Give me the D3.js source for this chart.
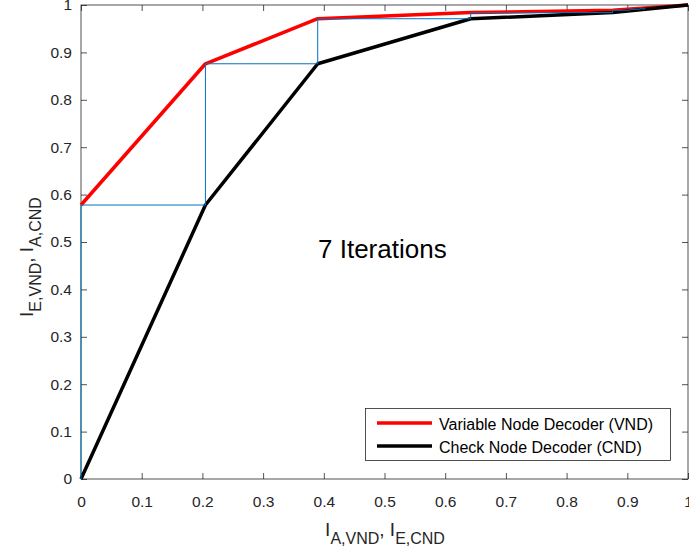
<!DOCTYPE html>
<html>
<head>
<meta charset="utf-8">
<script src="https://cdn.jsdelivr.net/npm/d3@7"></script>
<style>
  html, body { margin: 0; padding: 0; background: #fff; }
  svg { display: block; font-family: "Liberation Sans", Arial, Helvetica, sans-serif; }
</style>
</head>
<body>
<svg id="chart" width="689" height="556"></svg>
<script>
// EXIT chart: VND and CND transfer curves with decoding trajectory
const vndX = [0, 0.205, 0.39, 0.642, 0.876, 1];
const vndY = [0.578, 0.876, 0.971, 0.984, 0.989, 1];
const cndX = [0, 0.205, 0.39, 0.642, 0.876, 1];
const cndY = [0, 0.578, 0.876, 0.971, 0.984, 1];
const trajX = [0, 0, 0.205, 0.205, 0.39, 0.39, 0.642, 0.642, 0.876, 0.876, 0.905, 0.905, 0.92, 0.92, 0.93];
const trajY = [0, 0.578, 0.578, 0.876, 0.876, 0.971, 0.971, 0.984, 0.984, 0.989, 0.989, 0.991, 0.991, 0.992, 0.992];
const tickValues = [0, 0.1, 0.2, 0.3, 0.4, 0.5, 0.6, 0.7, 0.8, 0.9, 1];
const legendLabels = ["Variable Node Decoder (VND)", "Check Node Decoder (CND)"];
const annotation = "7 Iterations";

const svg = d3.select("#chart");
const L = 81, R = 688, T = 5, B = 479;
const x = d3.scaleLinear().domain([0, 1]).range([L, R]);
const y = d3.scaleLinear().domain([0, 1]).range([B, T]);
const fmt = d => (d === 0 || d === 1) ? String(d) : d3.format(".1f")(d);
const axisColor = "#262626";

function styleAxis(g) {
  g.select(".domain").remove();
  g.selectAll(".tick line").attr("stroke", axisColor).attr("stroke-width", 0.8);
  g.selectAll(".tick text").attr("fill", axisColor).attr("font-size", "15.5px")
    .attr("font-family", "Liberation Sans, Arial, sans-serif");
}

// axes with inward ticks on all four sides
svg.append("g").attr("transform", `translate(0,${B})`)
  .call(d3.axisBottom(x).tickValues(tickValues).tickFormat(fmt).tickSize(-6).tickSizeOuter(0).tickPadding(17))
  .call(styleAxis);
svg.append("g").attr("transform", `translate(0,${T})`)
  .call(d3.axisTop(x).tickValues(tickValues).tickFormat("").tickSize(-6).tickSizeOuter(0))
  .call(styleAxis);
svg.append("g").attr("transform", `translate(${L},0)`)
  .call(d3.axisLeft(y).tickValues(tickValues).tickFormat(fmt).tickSize(-6).tickSizeOuter(0).tickPadding(9))
  .call(styleAxis);
svg.append("g").attr("transform", `translate(${R},0)`)
  .call(d3.axisRight(y).tickValues(tickValues).tickFormat("").tickSize(-6).tickSizeOuter(0))
  .call(styleAxis);

// axes box
svg.append("rect")
  .attr("x", L).attr("y", T).attr("width", R - L).attr("height", B - T)
  .attr("fill", "none").attr("stroke", axisColor).attr("stroke-width", 0.8);

const line = d3.line().x(d => x(d[0])).y(d => y(d[1]));

svg.append("path").datum(d3.zip(vndX, vndY))
  .attr("d", line).attr("fill", "none").attr("stroke", "#ff0000")
  .attr("stroke-width", 3.5).attr("stroke-linejoin", "round");
svg.append("path").datum(d3.zip(cndX, cndY))
  .attr("d", line).attr("fill", "none").attr("stroke", "#000000")
  .attr("stroke-width", 3.5).attr("stroke-linejoin", "round");
svg.append("path").datum(d3.zip(trajX, trajY))
  .attr("d", line).attr("fill", "none").attr("stroke", "#0072BD")
  .attr("stroke-width", 1);

// annotation
svg.append("text").attr("x", 318).attr("y", 258)
  .attr("font-size", "26px").attr("fill", "#000").text(annotation);

// x axis label with subscripts
const xl = svg.append("text").attr("x", 385).attr("y", 536)
  .attr("text-anchor", "middle").attr("fill", "#262626").attr("font-size", "19px");
xl.append("tspan").text("I");
xl.append("tspan").attr("dy", 8).attr("font-size", "16px").text("A,VND");
xl.append("tspan").attr("dy", -8).text(", I");
xl.append("tspan").attr("dy", 8).attr("font-size", "16px").text("E,CND");

// y axis label with subscripts
const yl = svg.append("text")
  .attr("transform", "translate(33,257) rotate(-90)")
  .attr("text-anchor", "middle").attr("fill", "#262626").attr("font-size", "19px");
yl.append("tspan").text("I");
yl.append("tspan").attr("dy", 8).attr("font-size", "16px").text("E,VND");
yl.append("tspan").attr("dy", -8).text(", I");
yl.append("tspan").attr("dy", 8).attr("font-size", "16px").text("A,CND");

// legend
const lg = svg.append("g");
lg.append("rect").attr("x", 365.5).attr("y", 408.5).attr("width", 305).attr("height", 52)
  .attr("fill", "#fff").attr("stroke", axisColor).attr("stroke-width", 0.8);
const legendColors = ["#ff0000", "#000000"];
legendLabels.forEach((lab, i) => {
  const cy = 423 + i * 23;
  lg.append("line").attr("x1", 377).attr("x2", 432).attr("y1", cy).attr("y2", cy)
    .attr("stroke", legendColors[i]).attr("stroke-width", 3.5);
  lg.append("text").attr("x", 439).attr("y", cy + 6.5)
    .attr("font-size", "16px").attr("fill", "#000").text(lab);
});
</script>
</body>
</html>
